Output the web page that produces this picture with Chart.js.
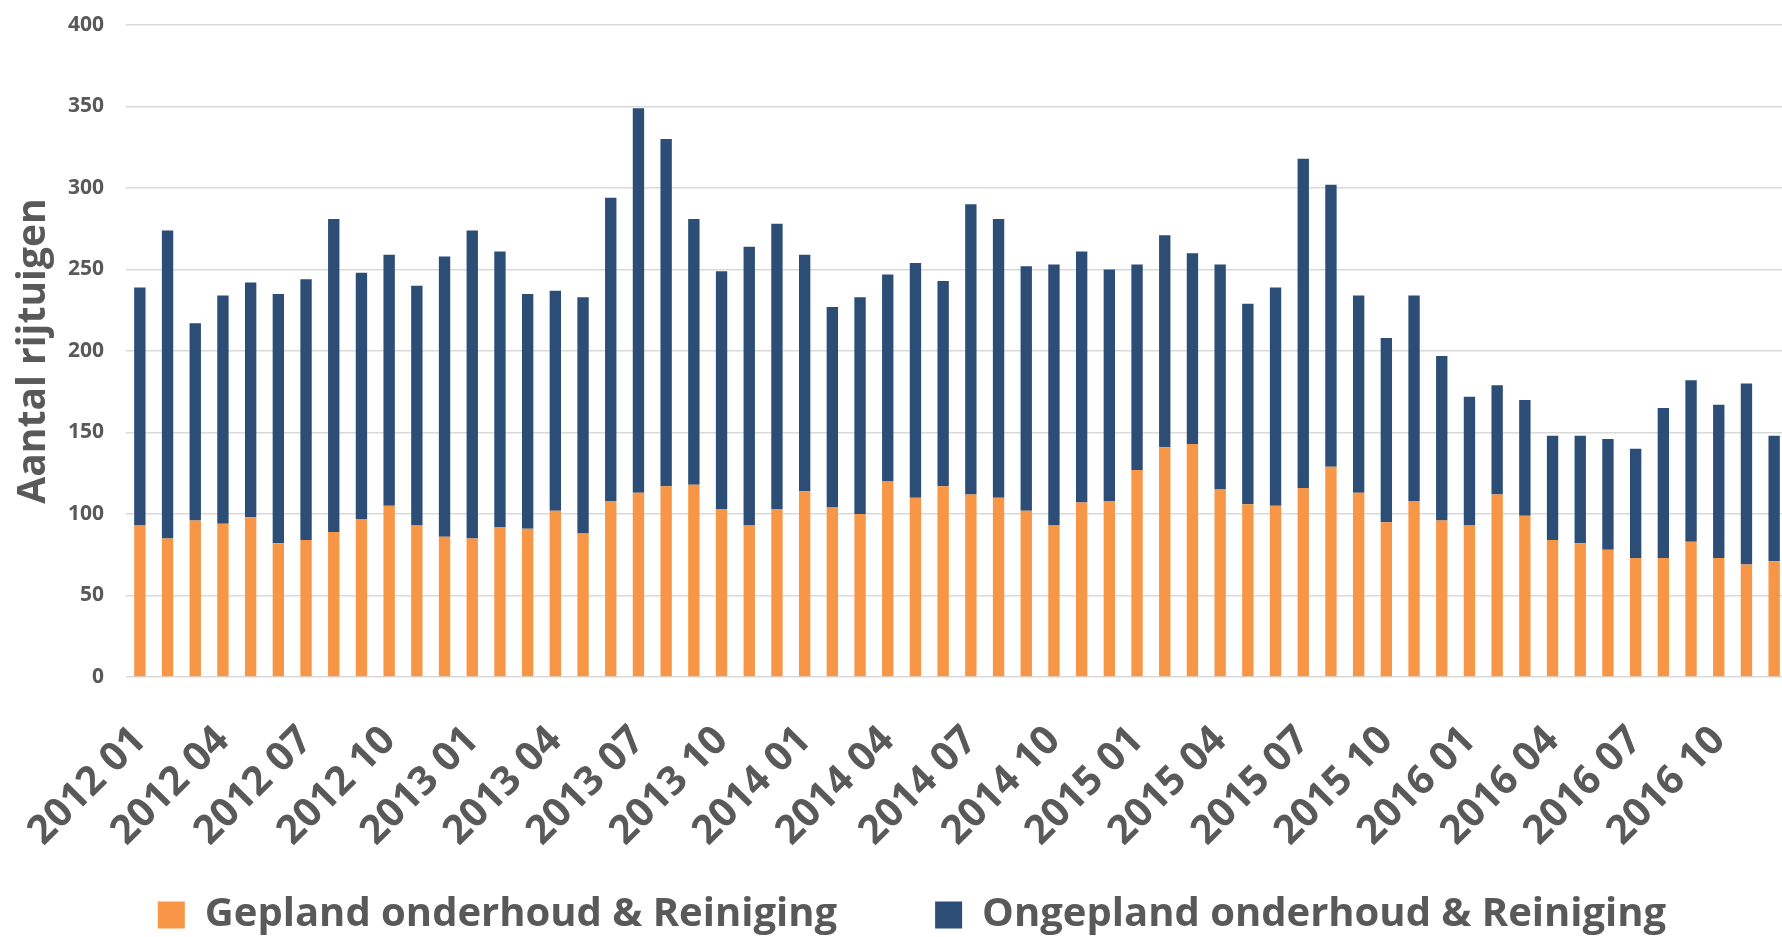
<!DOCTYPE html>
<html>
<head>
<meta charset="utf-8">
<title>Aantal rijtuigen</title>
<script src="https://cdn.jsdelivr.net/npm/chart.js@4.4.0/dist/chart.umd.min.js"></script>
<style>
html, body { margin: 0; padding: 0; background: #fff; overflow: hidden; }
#wrap { position: absolute; left: 0; top: 0; }
</style>
</head>
<body>
<div id="wrap"><canvas id="myCanvas" width="1788" height="1005"></canvas></div>
<script>
'use strict';

var months = [
    '2012 01', '2012 02', '2012 03', '2012 04', '2012 05', '2012 06', '2012 07', '2012 08', '2012 09', '2012 10', '2012 11', '2012 12',
    '2013 01', '2013 02', '2013 03', '2013 04', '2013 05', '2013 06', '2013 07', '2013 08', '2013 09', '2013 10', '2013 11', '2013 12',
    '2014 01', '2014 02', '2014 03', '2014 04', '2014 05', '2014 06', '2014 07', '2014 08', '2014 09', '2014 10', '2014 11', '2014 12',
    '2015 01', '2015 02', '2015 03', '2015 04', '2015 05', '2015 06', '2015 07', '2015 08', '2015 09', '2015 10', '2015 11', '2015 12',
    '2016 01', '2016 02', '2016 03', '2016 04', '2016 05', '2016 06', '2016 07', '2016 08', '2016 09', '2016 10', '2016 11', '2016 12'
];

// gepland (orange, bottom)
var gepland = [
    93, 85, 96, 94, 98, 82, 84, 89, 97, 105, 93, 86,
    85, 92, 91, 102, 88, 108, 113, 117, 118, 103, 93, 103,
    114, 104, 100, 120, 110, 117, 112, 110, 102, 93, 107, 108,
    127, 141, 143, 115, 106, 105, 116, 129, 113, 95, 108, 96,
    93, 112, 99, 84, 82, 78, 73, 73, 83, 73, 69, 71
];

// ongepland (blue, stacked on top)
var ongepland = [
    146, 189, 121, 140, 144, 153, 160, 192, 151, 154, 147, 172,
    189, 169, 144, 135, 145, 186, 236, 213, 163, 146, 171, 175,
    145, 123, 133, 127, 144, 126, 178, 171, 150, 160, 154, 142,
    126, 130, 117, 138, 123, 134, 202, 173, 121, 113, 126, 101,
    79, 67, 71, 64, 66, 68, 67, 92, 99, 94, 111, 77
];

var seriesNames = ['Gepland onderhoud & Reiniging', 'Ongepland onderhoud & Reiniging'];
var yTicks = [0, 50, 100, 150, 200, 250, 300, 350, 400];

var textGrey = '#595959';

Chart.defaults.font.family = "'Open Sans', sans-serif";
Chart.defaults.font.weight = 'bold';
Chart.defaults.color = textGrey;

// legend: wide gap between the two items, pulled up under the month labels
var moveLegend = {
    id: 'moveLegend',
    afterLayout: function(chart) {
        var lg = chart.legend;
        lg.left += 18;
        lg.right += 18;
        lg.top -= 60;
        lg.bottom -= 60;
    }
};

var ctx = document.getElementById('myCanvas').getContext('2d');
var myChart = new Chart(ctx, {
    type: 'bar',
    data: {
        labels: months,
        datasets: [
            {
                label: seriesNames[0],
                data: gepland,
                backgroundColor: '#F79646',
                barPercentage: 0.41,
                categoryPercentage: 1
            },
            {
                label: seriesNames[1],
                data: ongepland,
                backgroundColor: '#2C4D75',
                barPercentage: 0.41,
                categoryPercentage: 1
            }
        ]
    },
    options: {
        responsive: false,
        animation: false,
        devicePixelRatio: 1,
        layout: { padding: { top: 25, left: 0, right: 0, bottom: 0 } },
        plugins: {
            legend: {
                position: 'bottom',
                labels: {
                    boxWidth: 27,
                    boxHeight: 27,
                    padding: 98,
                    color: textGrey,
                    font: { size: 40, weight: 'bold' }
                }
            },
            tooltip: { enabled: false }
        },
        scales: {
            x: {
                stacked: true,
                grid: { display: false, drawTicks: false },
                border: { display: false },
                ticks: {
                    autoSkip: false,
                    minRotation: 45,
                    maxRotation: 45,
                    padding: 40,
                    color: textGrey,
                    font: { size: 40, weight: 'bold' },
                    callback: function(v, i) {
                        return i % 3 === 0 ? months[i] : '';
                    }
                },
                afterFit: function(scale) {
                    scale.height = 180;
                    scale.paddingLeft = 0;
                    scale.paddingRight = 0;
                }
            },
            y: {
                stacked: true,
                min: yTicks[0],
                max: yTicks[yTicks.length - 1],
                ticks: {
                    stepSize: yTicks[1] - yTicks[0],
                    padding: 22,
                    color: textGrey,
                    font: { size: 21, weight: 'bold' }
                },
                grid: { color: '#d9d9d9', lineWidth: 1.5, drawTicks: false },
                border: { display: false },
                title: {
                    display: true,
                    text: 'Aantal rijtuigen',
                    color: textGrey,
                    font: { size: 39, weight: 'bold' },
                    padding: { top: 10, bottom: 0 }
                },
                afterFit: function(scale) {
                    scale.width = 126;
                    scale.paddingTop = 0;
                    scale.paddingBottom = 0;
                }
            }
        }
    },
    plugins: [moveLegend]
});
</script>
</body>
</html>
